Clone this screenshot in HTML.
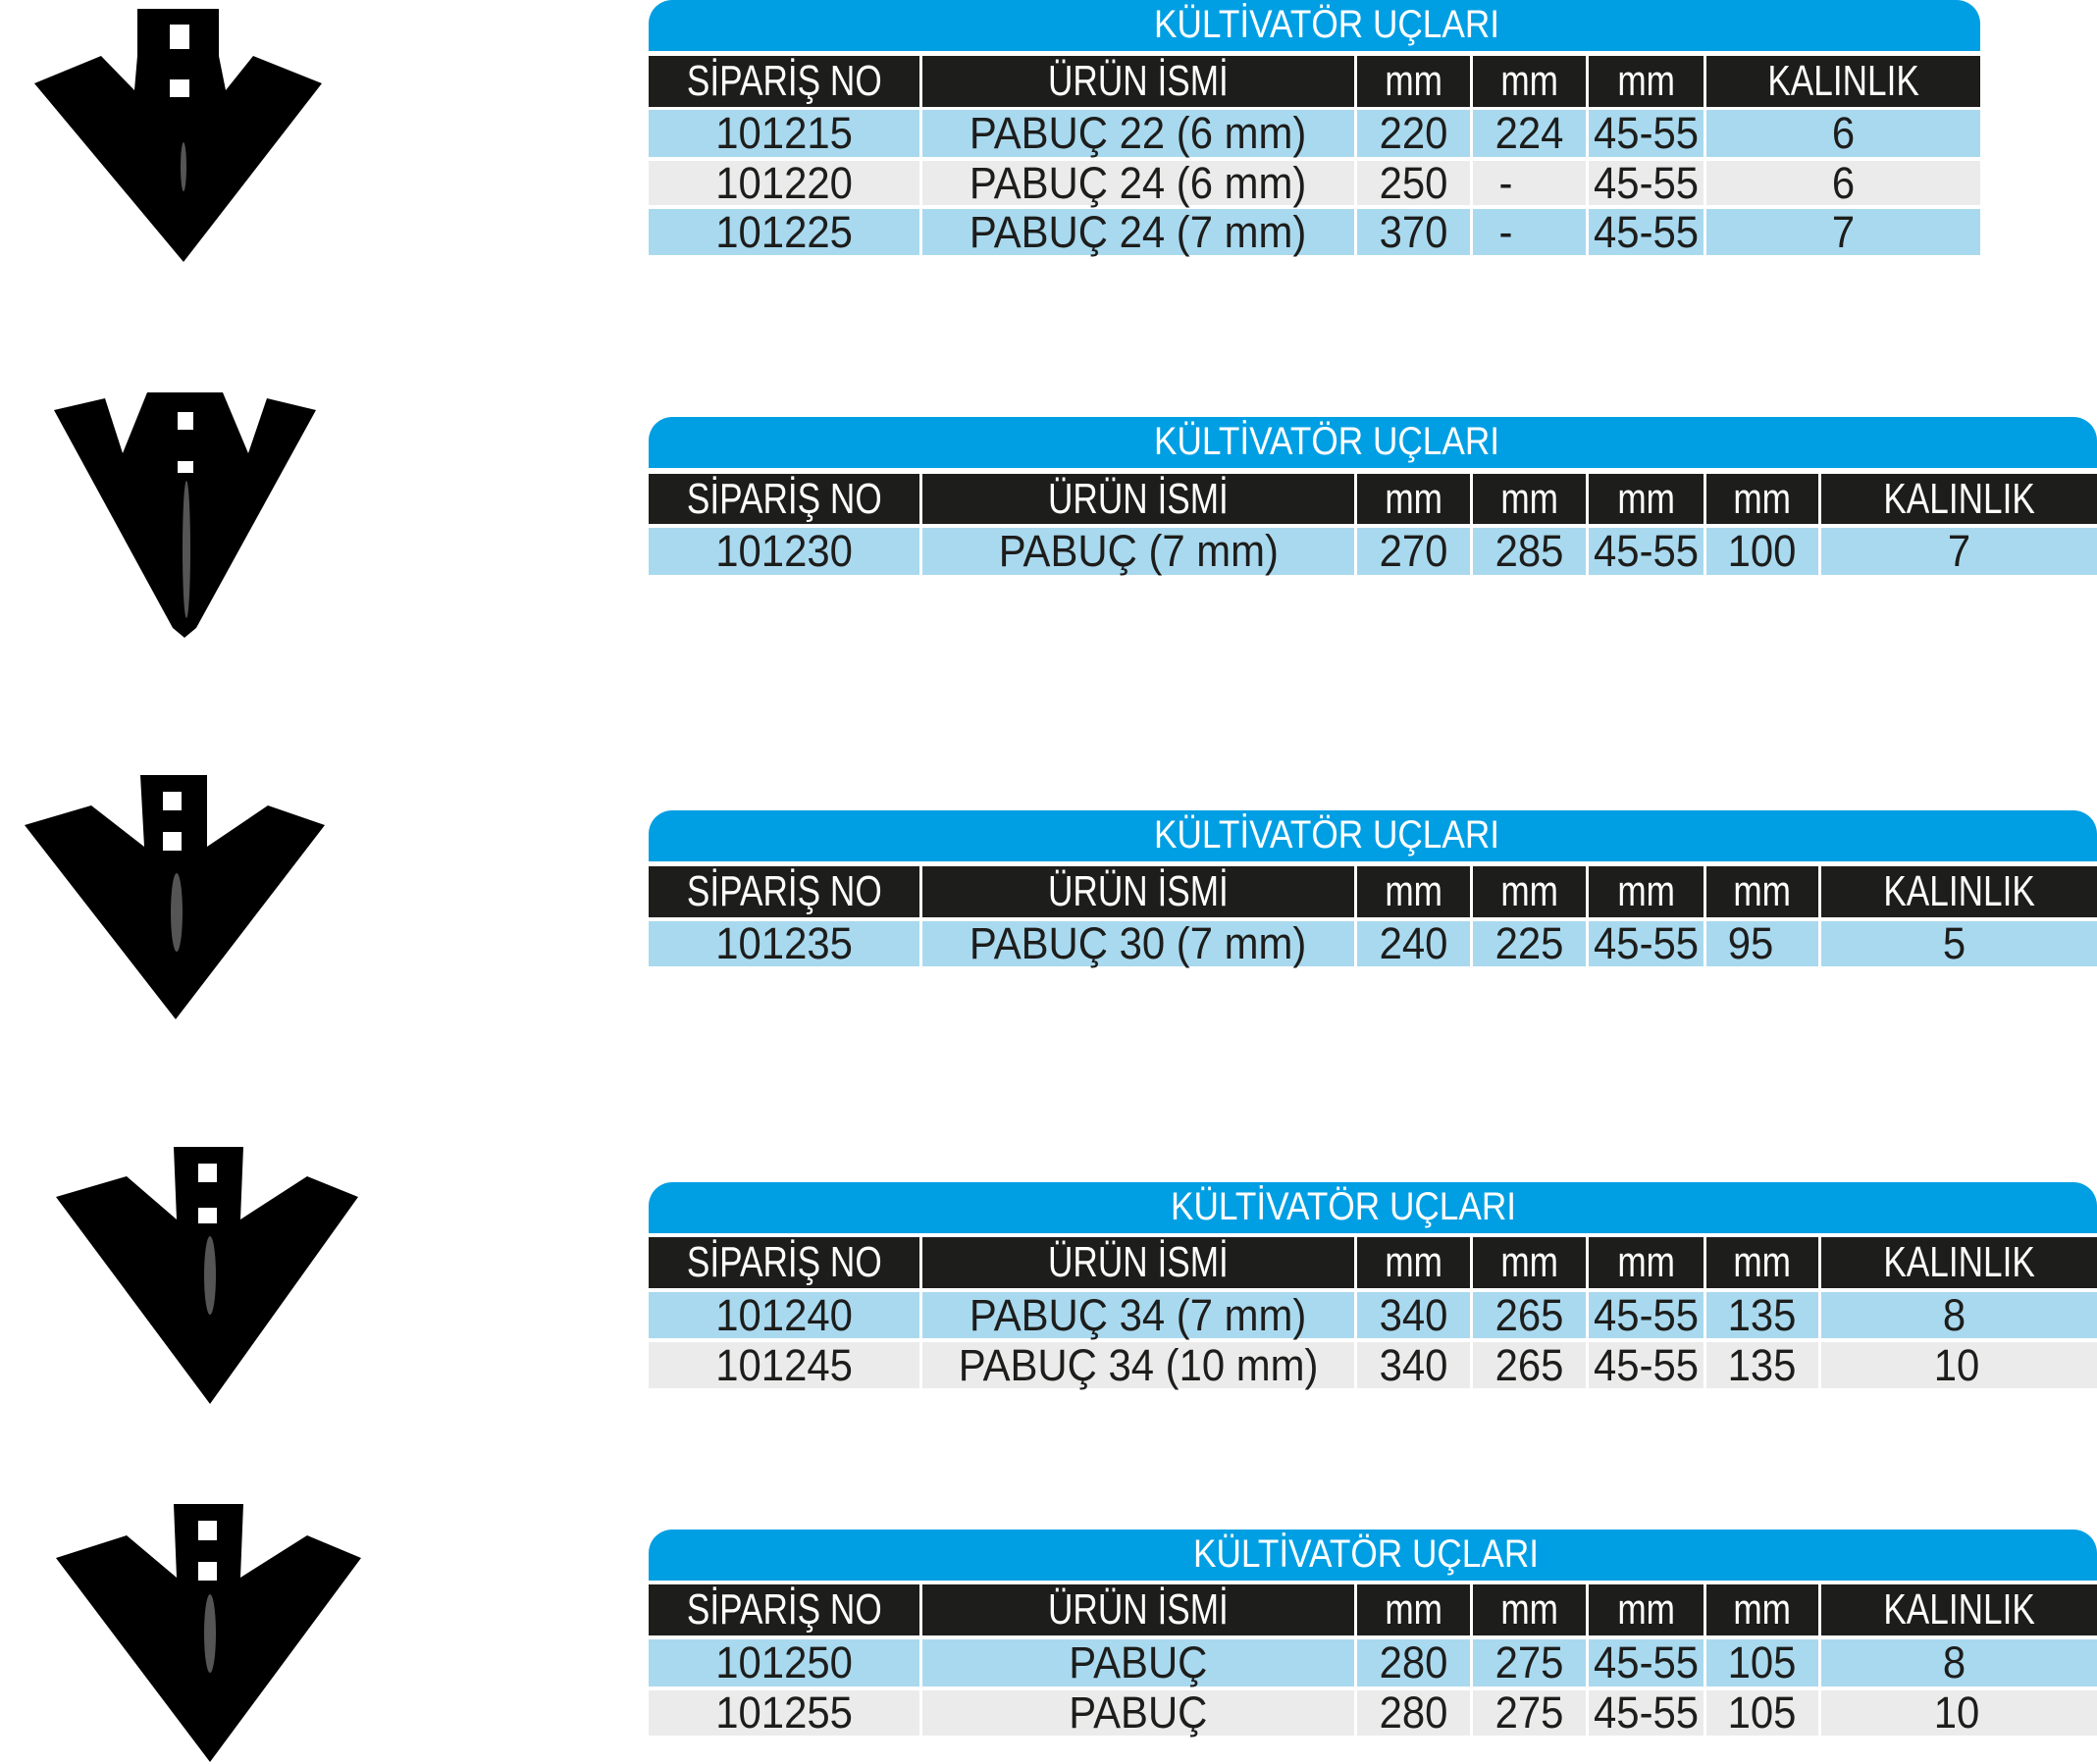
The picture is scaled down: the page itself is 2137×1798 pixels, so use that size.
<!DOCTYPE html>
<html><head><meta charset="utf-8"><style>
body{margin:0;width:2137px;height:1798px;background:#fff;position:relative;overflow:hidden;font-family:"Liberation Sans Narrow","Liberation Sans",sans-serif}
.b{position:absolute;background:#009fe3;border-radius:24px 24px 0 0}
.t{position:absolute;width:600px;text-align:center;color:#fff;font-size:40px}
.t span{display:inline-block;transform:scaleX(.88)}
.c span{display:inline-block;transform:scaleX(.93)}
.h span{transform:scaleX(.8)}
.c{position:absolute;display:flex;align-items:center;justify-content:center;font-size:45px;color:#1d1d1b;white-space:nowrap}
.h{background:#1d1d1b;color:#fff;font-size:44px}
.l{background:#a9d9ef}.g{background:#ebebeb}
.p{justify-content:flex-start;box-sizing:border-box}
svg{position:absolute;left:0;top:0}
</style></head><body>
<svg width="400" height="1798" viewBox="0 0 400 1798">
<g fill="#000">
<polygon points="140,9 223,9 223,57 230,92 258,57 328,85 187,267 35,85 103,57 137,92 140,57"/>
<polygon points="55,418 107,406 125,462 150,400 227,400 253,462 272,406 322,418 200,640 188,650 176,640"/>
<polygon points="143,790 211,790 211,863 273,821 331,841 179,1039 25,841 93,821 147,863"/>
<polygon points="177,1169 248,1169 245,1243 313,1199 365,1220 214,1431 57,1220 129,1199 180,1243"/>
<polygon points="177,1533 248,1533 245,1608 313,1565 368,1588 214,1796 57,1588 129,1565 180,1608"/>
</g>
<g fill="#fff">
<rect x="173" y="25" width="20" height="25"/><rect x="173" y="81" width="20" height="18"/>
<rect x="181" y="420" width="16" height="18"/><rect x="181" y="470" width="16" height="12"/>
<rect x="166" y="807" width="19" height="19"/><rect x="166" y="848" width="19" height="19"/>
<rect x="202" y="1186" width="19" height="19"/><rect x="202" y="1231" width="19" height="16"/>
<rect x="202" y="1550" width="19" height="20"/><rect x="202" y="1592" width="19" height="19"/>
</g>
<g fill="#555"><ellipse cx="187" cy="170" rx="3" ry="25"/><ellipse cx="190" cy="560" rx="4" ry="70"/><ellipse cx="180" cy="930" rx="6" ry="40"/><ellipse cx="214" cy="1300" rx="6" ry="40"/><ellipse cx="214" cy="1665" rx="6" ry="40"/></g>
</svg>

<!-- Table 1 -->
<div class="b" style="left:661px;top:0;width:1357px;height:52px"></div>
<div class="t" style="left:1052px;top:3px"><span>KÜLTİVATÖR UÇLARI</span></div>
<div class="c h" style="left:661px;top:57px;width:276px;height:52px"><span>SİPARİŞ NO</span></div>
<div class="c h" style="left:940px;top:57px;width:440px;height:52px"><span>ÜRÜN İSMİ</span></div>
<div class="c h" style="left:1383px;top:57px;width:115px;height:52px"><span>mm</span></div>
<div class="c h" style="left:1501px;top:57px;width:115px;height:52px"><span>mm</span></div>
<div class="c h" style="left:1619px;top:57px;width:117px;height:52px"><span>mm</span></div>
<div class="c h" style="left:1739px;top:57px;width:279px;height:52px"><span>KALINLIK</span></div>

<div class="c l" style="left:661px;top:112px;width:276px;height:48px"><span>101215</span></div>
<div class="c l" style="left:940px;top:112px;width:440px;height:48px"><span>PABUÇ 22 (6 mm)</span></div>
<div class="c l" style="left:1383px;top:112px;width:115px;height:48px"><span>220</span></div>
<div class="c l" style="left:1501px;top:112px;width:115px;height:48px"><span>224</span></div>
<div class="c l" style="left:1619px;top:112px;width:117px;height:48px"><span>45-55</span></div>
<div class="c l" style="left:1739px;top:112px;width:279px;height:48px"><span>6</span></div>

<div class="c g" style="left:661px;top:164px;width:276px;height:45px"><span>101220</span></div>
<div class="c g" style="left:940px;top:164px;width:440px;height:45px"><span>PABUÇ 24 (6 mm)</span></div>
<div class="c g" style="left:1383px;top:164px;width:115px;height:45px"><span>250</span></div>
<div class="c g p" style="left:1501px;top:164px;width:115px;height:45px;padding-left:26px"><span>-</span></div>
<div class="c g" style="left:1619px;top:164px;width:117px;height:45px"><span>45-55</span></div>
<div class="c g" style="left:1739px;top:164px;width:279px;height:45px"><span>6</span></div>

<div class="c l" style="left:661px;top:213px;width:276px;height:47px"><span>101225</span></div>
<div class="c l" style="left:940px;top:213px;width:440px;height:47px"><span>PABUÇ 24 (7 mm)</span></div>
<div class="c l" style="left:1383px;top:213px;width:115px;height:47px"><span>370</span></div>
<div class="c l p" style="left:1501px;top:213px;width:115px;height:47px;padding-left:26px"><span>-</span></div>
<div class="c l" style="left:1619px;top:213px;width:117px;height:47px"><span>45-55</span></div>
<div class="c l" style="left:1739px;top:213px;width:279px;height:47px"><span>7</span></div>

<!-- Table 2 -->
<div class="b" style="left:661px;top:425px;width:1476px;height:52px"></div>
<div class="t" style="left:1052px;top:428px"><span>KÜLTİVATÖR UÇLARI</span></div>
<div class="c h" style="left:661px;top:483px;width:276px;height:51px"><span>SİPARİŞ NO</span></div>
<div class="c h" style="left:940px;top:483px;width:440px;height:51px"><span>ÜRÜN İSMİ</span></div>
<div class="c h" style="left:1383px;top:483px;width:115px;height:51px"><span>mm</span></div>
<div class="c h" style="left:1501px;top:483px;width:115px;height:51px"><span>mm</span></div>
<div class="c h" style="left:1619px;top:483px;width:117px;height:51px"><span>mm</span></div>
<div class="c h" style="left:1739px;top:483px;width:114px;height:51px"><span>mm</span></div>
<div class="c h" style="left:1856px;top:483px;width:281px;height:51px"><span>KALINLIK</span></div>
<div class="c l" style="left:661px;top:538px;width:276px;height:48px"><span>101230</span></div>
<div class="c l" style="left:940px;top:538px;width:440px;height:48px"><span>PABUÇ (7 mm)</span></div>
<div class="c l" style="left:1383px;top:538px;width:115px;height:48px"><span>270</span></div>
<div class="c l" style="left:1501px;top:538px;width:115px;height:48px"><span>285</span></div>
<div class="c l" style="left:1619px;top:538px;width:117px;height:48px"><span>45-55</span></div>
<div class="c l" style="left:1739px;top:538px;width:114px;height:48px"><span>100</span></div>
<div class="c l" style="left:1856px;top:538px;width:281px;height:48px"><span>7</span></div>

<!-- Table 3 -->
<div class="b" style="left:661px;top:826px;width:1476px;height:52px"></div>
<div class="t" style="left:1052px;top:829px"><span>KÜLTİVATÖR UÇLARI</span></div>
<div class="c h" style="left:661px;top:883px;width:276px;height:52px"><span>SİPARİŞ NO</span></div>
<div class="c h" style="left:940px;top:883px;width:440px;height:52px"><span>ÜRÜN İSMİ</span></div>
<div class="c h" style="left:1383px;top:883px;width:115px;height:52px"><span>mm</span></div>
<div class="c h" style="left:1501px;top:883px;width:115px;height:52px"><span>mm</span></div>
<div class="c h" style="left:1619px;top:883px;width:117px;height:52px"><span>mm</span></div>
<div class="c h" style="left:1739px;top:883px;width:114px;height:52px"><span>mm</span></div>
<div class="c h" style="left:1856px;top:883px;width:281px;height:52px"><span>KALINLIK</span></div>
<div class="c l" style="left:661px;top:939px;width:276px;height:46px"><span>101235</span></div>
<div class="c l" style="left:940px;top:939px;width:440px;height:46px"><span>PABUÇ 30 (7 mm)</span></div>
<div class="c l" style="left:1383px;top:939px;width:115px;height:46px"><span>240</span></div>
<div class="c l" style="left:1501px;top:939px;width:115px;height:46px"><span>225</span></div>
<div class="c l" style="left:1619px;top:939px;width:117px;height:46px"><span>45-55</span></div>
<div class="c l p" style="left:1739px;top:939px;width:114px;height:46px;padding-left:20px"><span>95</span></div>
<div class="c l p" style="left:1856px;top:939px;width:281px;height:46px;padding-left:123px"><span>5</span></div>

<!-- Table 4 -->
<div class="b" style="left:661px;top:1205px;width:1476px;height:52px"></div>
<div class="t" style="left:1069px;top:1208px"><span>KÜLTİVATÖR UÇLARI</span></div>
<div class="c h" style="left:661px;top:1261px;width:276px;height:52px"><span>SİPARİŞ NO</span></div>
<div class="c h" style="left:940px;top:1261px;width:440px;height:52px"><span>ÜRÜN İSMİ</span></div>
<div class="c h" style="left:1383px;top:1261px;width:115px;height:52px"><span>mm</span></div>
<div class="c h" style="left:1501px;top:1261px;width:115px;height:52px"><span>mm</span></div>
<div class="c h" style="left:1619px;top:1261px;width:117px;height:52px"><span>mm</span></div>
<div class="c h" style="left:1739px;top:1261px;width:114px;height:52px"><span>mm</span></div>
<div class="c h" style="left:1856px;top:1261px;width:281px;height:52px"><span>KALINLIK</span></div>
<div class="c l" style="left:661px;top:1317px;width:276px;height:47px"><span>101240</span></div>
<div class="c l" style="left:940px;top:1317px;width:440px;height:47px"><span>PABUÇ 34 (7 mm)</span></div>
<div class="c l" style="left:1383px;top:1317px;width:115px;height:47px"><span>340</span></div>
<div class="c l" style="left:1501px;top:1317px;width:115px;height:47px"><span>265</span></div>
<div class="c l" style="left:1619px;top:1317px;width:117px;height:47px"><span>45-55</span></div>
<div class="c l" style="left:1739px;top:1317px;width:114px;height:47px"><span>135</span></div>
<div class="c l p" style="left:1856px;top:1317px;width:281px;height:47px;padding-left:123px"><span>8</span></div>
<div class="c g" style="left:661px;top:1368px;width:276px;height:47px"><span>101245</span></div>
<div class="c g" style="left:940px;top:1368px;width:440px;height:47px"><span>PABUÇ 34 (10 mm)</span></div>
<div class="c g" style="left:1383px;top:1368px;width:115px;height:47px"><span>340</span></div>
<div class="c g" style="left:1501px;top:1368px;width:115px;height:47px"><span>265</span></div>
<div class="c g" style="left:1619px;top:1368px;width:117px;height:47px"><span>45-55</span></div>
<div class="c g" style="left:1739px;top:1368px;width:114px;height:47px"><span>135</span></div>
<div class="c g p" style="left:1856px;top:1368px;width:281px;height:47px;padding-left:113px"><span>10</span></div>

<!-- Table 5 -->
<div class="b" style="left:661px;top:1559px;width:1476px;height:52px"></div>
<div class="t" style="left:1092px;top:1562px"><span>KÜLTİVATÖR UÇLARI</span></div>
<div class="c h" style="left:661px;top:1615px;width:276px;height:52px"><span>SİPARİŞ NO</span></div>
<div class="c h" style="left:940px;top:1615px;width:440px;height:52px"><span>ÜRÜN İSMİ</span></div>
<div class="c h" style="left:1383px;top:1615px;width:115px;height:52px"><span>mm</span></div>
<div class="c h" style="left:1501px;top:1615px;width:115px;height:52px"><span>mm</span></div>
<div class="c h" style="left:1619px;top:1615px;width:117px;height:52px"><span>mm</span></div>
<div class="c h" style="left:1739px;top:1615px;width:114px;height:52px"><span>mm</span></div>
<div class="c h" style="left:1856px;top:1615px;width:281px;height:52px"><span>KALINLIK</span></div>
<div class="c l" style="left:661px;top:1671px;width:276px;height:48px"><span>101250</span></div>
<div class="c l" style="left:940px;top:1671px;width:440px;height:48px"><span>PABUÇ</span></div>
<div class="c l" style="left:1383px;top:1671px;width:115px;height:48px"><span>280</span></div>
<div class="c l" style="left:1501px;top:1671px;width:115px;height:48px"><span>275</span></div>
<div class="c l" style="left:1619px;top:1671px;width:117px;height:48px"><span>45-55</span></div>
<div class="c l" style="left:1739px;top:1671px;width:114px;height:48px"><span>105</span></div>
<div class="c l p" style="left:1856px;top:1671px;width:281px;height:48px;padding-left:123px"><span>8</span></div>
<div class="c g" style="left:661px;top:1723px;width:276px;height:46px"><span>101255</span></div>
<div class="c g" style="left:940px;top:1723px;width:440px;height:46px"><span>PABUÇ</span></div>
<div class="c g" style="left:1383px;top:1723px;width:115px;height:46px"><span>280</span></div>
<div class="c g" style="left:1501px;top:1723px;width:115px;height:46px"><span>275</span></div>
<div class="c g" style="left:1619px;top:1723px;width:117px;height:46px"><span>45-55</span></div>
<div class="c g" style="left:1739px;top:1723px;width:114px;height:46px"><span>105</span></div>
<div class="c g p" style="left:1856px;top:1723px;width:281px;height:46px;padding-left:113px"><span>10</span></div>
</body></html>
